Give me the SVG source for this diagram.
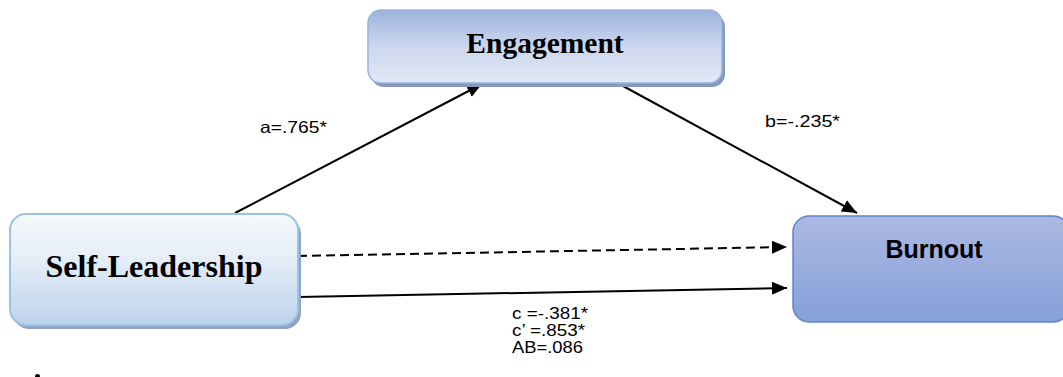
<svg xmlns="http://www.w3.org/2000/svg" width="1063" height="377" viewBox="0 0 1063 377">
<style>
.conn{stroke:#000;stroke-width:2;fill:none}
.dash{stroke-dasharray:9 5}
.serif{font-family:"Liberation Serif","Times New Roman",serif;font-weight:bold;fill:#000}
.sans{font-family:"Liberation Sans",Arial,sans-serif;fill:#000}
.lbl{font-size:16.5px}
</style>
<defs>
<marker id="arr" markerUnits="userSpaceOnUse" markerWidth="16" markerHeight="14" refX="15" refY="6.5" orient="auto">
<path d="M0,0 L15,6.5 L0,13 z" fill="#000"/>
</marker>
<linearGradient id="gEng" x1="0" y1="0" x2="0" y2="1">
<stop offset="0" stop-color="#9cb2de"/>
<stop offset="0.5" stop-color="#ccd7ee"/>
<stop offset="1" stop-color="#e2e8f5"/>
</linearGradient>
<linearGradient id="gSelf" x1="0" y1="0" x2="0" y2="1">
<stop offset="0" stop-color="#f6f9fd"/>
<stop offset="0.45" stop-color="#e3ecf7"/>
<stop offset="1" stop-color="#bcd3ec"/>
</linearGradient>
<linearGradient id="gBurn" x1="0" y1="0" x2="0" y2="1">
<stop offset="0" stop-color="#acb9e1"/>
<stop offset="1" stop-color="#86a0d9"/>
</linearGradient>
</defs>
<rect width="1063" height="377" fill="#fff"/>
<g id="connectors">
<line class="conn" x1="235" y1="213" x2="482" y2="84" marker-end="url(#arr)"/>
<line class="conn" x1="623" y1="86" x2="857" y2="213" marker-end="url(#arr)"/>
<line class="conn dash" x1="298" y1="256" x2="787" y2="247" marker-end="url(#arr)"/>
<line class="conn" x1="298" y1="297" x2="787" y2="288" marker-end="url(#arr)"/>
</g>
<g id="node-engagement">
<rect x="371" y="14" width="354" height="73" rx="13" fill="#8799bb"/>
<rect x="368" y="10" width="354" height="73" rx="13" fill="url(#gEng)" stroke="#9ab4dc" stroke-width="1.5"/>
<text class="serif" x="545" y="53" font-size="29.5" text-anchor="middle">Engagement</text>
</g>
<g id="node-selfleadership">
<rect x="13" y="218" width="288" height="111" rx="16" fill="#8fa5c4"/>
<rect x="10" y="214" width="288" height="111" rx="16" fill="url(#gSelf)" stroke="#9cc2e5" stroke-width="2"/>
<text class="serif" x="154" y="277" font-size="32" text-anchor="middle">Self-Leadership</text>
</g>
<g id="node-burnout">
<rect x="793" y="216" width="276" height="106" rx="16" fill="url(#gBurn)" stroke="#5e84cf" stroke-width="1.5"/>
<text class="sans" x="934" y="258" font-size="25" font-weight="bold" text-anchor="middle">Burnout</text>
</g>
<g id="labels">
<text class="sans lbl" x="260" y="133" textLength="67" lengthAdjust="spacingAndGlyphs">a=.765*</text>
<text class="sans lbl" x="765" y="127" textLength="75" lengthAdjust="spacingAndGlyphs">b=-.235*</text>
<text class="sans lbl" x="512" y="319" textLength="76" lengthAdjust="spacingAndGlyphs">c =-.381*</text>
<text class="sans lbl" x="512" y="336" textLength="73" lengthAdjust="spacingAndGlyphs">c’ =.853*</text>
<text class="sans lbl" x="512" y="353" textLength="71" lengthAdjust="spacingAndGlyphs">AB=.086</text>
</g>
<ellipse cx="37.5" cy="376" rx="2.5" ry="2" fill="#000"/>
</svg>
